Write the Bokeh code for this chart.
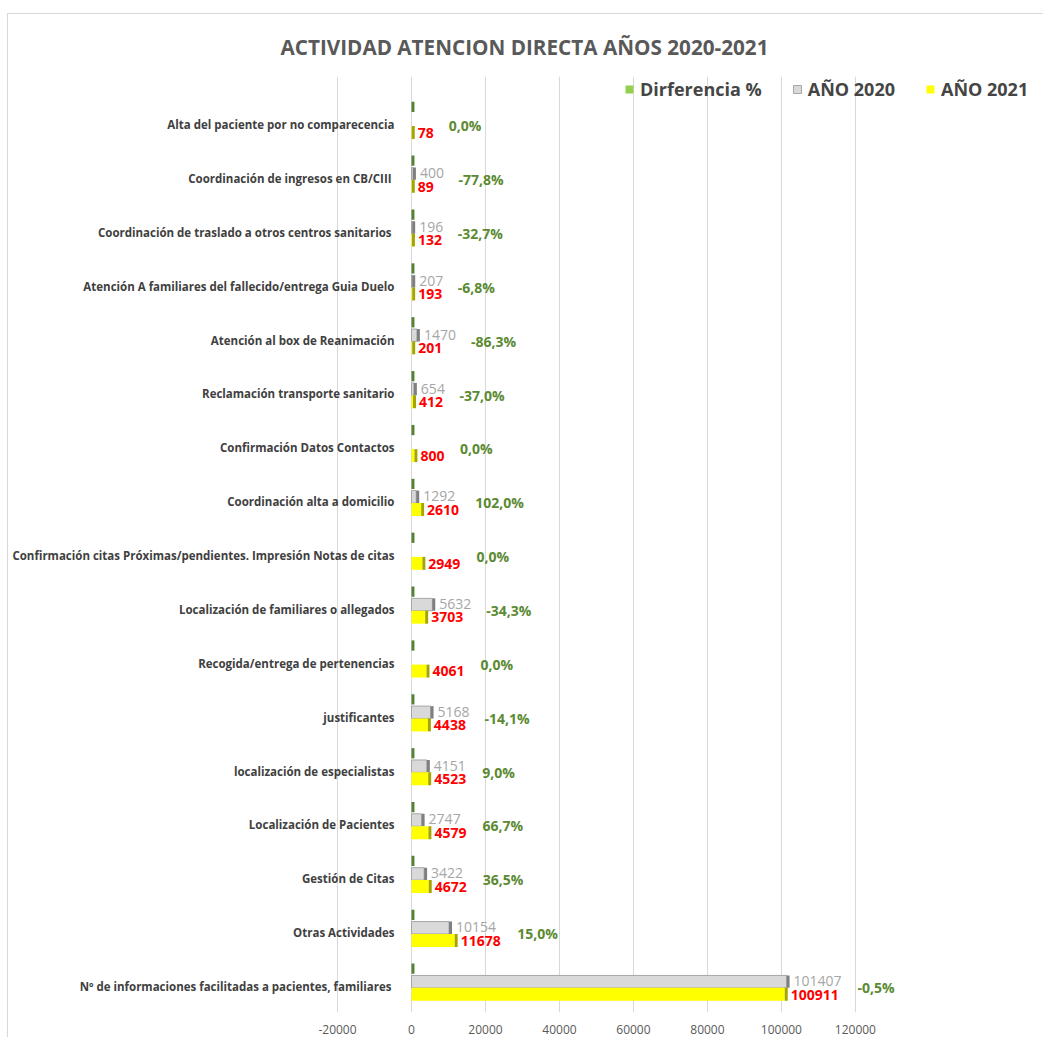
import math
from bokeh.plotting import figure
from bokeh.models import ColumnDataSource, FixedTicker, Legend, LegendItem
from bokeh.core.properties import value
from bokeh.embed import file_html
from bokeh.resources import INLINE

# ---------------- data (bottom -> top) ----------------
titulo = "ACTIVIDAD ATENCION DIRECTA AÑOS 2020-2021"
categorias = [
    "Nº de informaciones facilitadas  a pacientes, familiares",
    "Otras Actividades",
    "Gestión de Citas",
    "Localización de Pacientes",
    "localización de especialistas",
    "justificantes",
    "Recogida/entrega de pertenencias",
    "Localización de familiares o allegados",
    "Confirmación citas Próximas/pendientes. Impresión Notas de citas",
    "Coordinación alta a domicilio",
    "Confirmación Datos Contactos",
    "Reclamación transporte sanitario",
    "Atención al box de Reanimación",
    "Atención A familiares del fallecido/entrega Guia Duelo",
    "Coordinación  de traslado a otros centros sanitarios",
    "Coordinación  de ingresos en CB/CIII",
    "Alta del paciente por no comparecencia",
]
anio_2020 = [101407, 10154, 3422, 2747, 4151, 5168, None, 5632, None, 1292,
             None, 654, 1470, 207, 196, 400, None]
anio_2021 = [100911, 11678, 4672, 4579, 4523, 4438, 4061, 3703, 2949, 2610,
             800, 412, 201, 193, 132, 89, 78]
diferencia = [-0.005, 0.150, 0.365, 0.667, 0.090, -0.141, 0.0, -0.343, 0.0, 1.020,
              0.0, -0.370, -0.863, -0.068, -0.327, -0.778, 0.0]
x_ticks = [-20000, 0, 20000, 40000, 60000, 80000, 100000, 120000]
x_tick_labels = ["-20000", "0", "20000", "40000", "60000", "80000", "100000", "120000"]

# ---------------- derived columns ----------------
n = len(categorias)
idx = list(range(n))
v20 = [float("nan") if v is None else float(v) for v in anio_2020]
v20z = [0.0 if v is None else float(v) for v in anio_2020]
lab20 = ["" if v is None else str(v) for v in anio_2020]
lab21 = [str(v) for v in anio_2021]
pct = [("%.1f" % (d * 100)).replace(".", ",") + "%" for d in diferencia]
pct = [p.replace("-0,0", "0,0") for p in pct]
mx = [max(a, b) for a, b in zip(v20z, anio_2021)]
ndig = [max(len(a), len(b)) for a, b in zip(lab20, lab21)]
pct_off = [6 + 8.5 * d + 14 for d in ndig]

CAP = 800  # 3D end-cap depth in data units (~3px)

src = ColumnDataSource(dict(
    cat=categorias, idx=idx,
    y_g=[i + 0.33 for i in idx], y_a=[i + 0.09 for i in idx], y_b=[i - 0.145 for i in idx],
    y_la=[i + 0.10 for i in idx], y_lb=[i - 0.15 for i in idx], y_p=[i - 0.02 for i in idx],
    d=diferencia, d_cap=[d + CAP for d in diferencia],
    v20=v20, v20_cap=[v + CAP for v in v20],
    v21=anio_2021, v21_cap=[v + CAP for v in anio_2021],
    lab20=lab20, lab21=lab21, pct=pct, mx=mx, pct_off=pct_off,
))

p = figure(width=1036, height=1024, output_backend="svg", toolbar_location=None,
           x_range=(-108400, 169500), y_range=(-0.483, 16.893),
           y_axis_location=None, min_border_left=2, min_border_right=6,
           min_border_top=61, min_border_bottom=26)
p.styles = {"margin-left": "7px", "margin-top": "13px",
            "border-left": "1px solid #d9d9d9", "border-top": "1px solid #d9d9d9"}
p.outline_line_color = None
p.background_fill_color = "white"

p.title.text = titulo
p.title.align = "center"
p.title.text_font = "Open Sans"
p.title.text_font_size = "20.7px"
p.title.text_font_style = "bold"
p.title.text_color = "#595959"
p.title.standoff = 32

p.xaxis.ticker = FixedTicker(ticks=x_ticks)
p.xaxis.major_label_overrides = {t: l for t, l in zip(x_ticks, x_tick_labels)}
p.xaxis.axis_line_color = None
p.xaxis.major_tick_line_color = None
p.xaxis.minor_tick_line_color = None
p.xaxis.major_label_text_font = "Open Sans"
p.xaxis.major_label_text_font_size = "12px"
p.xaxis.major_label_text_color = "#595959"
p.xaxis.major_label_standoff = 6
p.xgrid.ticker = FixedTicker(ticks=x_ticks)
p.xgrid.grid_line_color = "#d9d9d9"
p.ygrid.grid_line_color = None

# bars
r_g = p.hbar(y="y_g", left=0, right="d", height=0.19, source=src,
             fill_color="#92d050", line_color=None)
p.hbar(y="y_g", left="d", right="d_cap", height=0.19, source=src,
       fill_color="#548235", line_color=None)
r_a = p.hbar(y="y_a", left=0, right="v20", height=0.23, source=src,
             fill_color="#d9d9d9", line_color="#a6a6a6", line_width=1)
p.hbar(y="y_a", left="v20", right="v20_cap", height=0.23, source=src,
       fill_color="#7f7f7f", line_color=None)
r_b = p.hbar(y="y_b", left=0, right="v21", height=0.24, source=src,
             fill_color="#ffff00", line_color=None)
p.hbar(y="y_b", left="v21", right="v21_cap", height=0.24, source=src,
       fill_color="#a5a500", line_color=None)

# category labels
p.text(x=0, y="idx", text="cat", source=src, x_offset=-17, text_align="right",
       text_baseline="middle", text_font=value("Open Sans"), text_font_size="11.5px",
       text_font_style="bold", text_color="#404040")
# value labels
p.text(x="v20_cap", y="y_la", text="lab20", source=src, x_offset=4, text_align="left",
       text_baseline="middle", text_font=value("Open Sans"), text_font_size="14px",
       text_color="#a6a6a6")
p.text(x="v21_cap", y="y_lb", text="lab21", source=src, x_offset=3, text_align="left",
       text_baseline="middle", text_font=value("Open Sans"), text_font_size="14px",
       text_font_style="bold", text_color="#ff0000")
p.text(x="mx", y="y_p", text="pct", source=src, x_offset="pct_off", text_align="left",
       text_baseline="middle", text_font=value("Open Sans"), text_font_size="14px",
       text_font_style="bold", text_color="#5b8a32")

legend = Legend(items=[
    LegendItem(label="Dirferencia %", renderers=[r_g]),
    LegendItem(label="AÑO 2020", renderers=[r_a]),
    LegendItem(label="AÑO 2021", renderers=[r_b]),
], orientation="horizontal", location=(614, 911))
legend.border_line_color = None
legend.background_fill_alpha = 0
legend.label_text_font = "Open Sans"
legend.label_text_font_size = "18px"
legend.label_text_font_style = "bold"
legend.label_text_color = "#454545"
legend.glyph_width = 10
legend.glyph_height = 10
legend.label_height = 16
legend.label_standoff = 6
legend.spacing = 30
legend.padding = 0
legend.margin = 0
p.add_layout(legend)

open("out.html", "w").write(file_html(p, INLINE))
